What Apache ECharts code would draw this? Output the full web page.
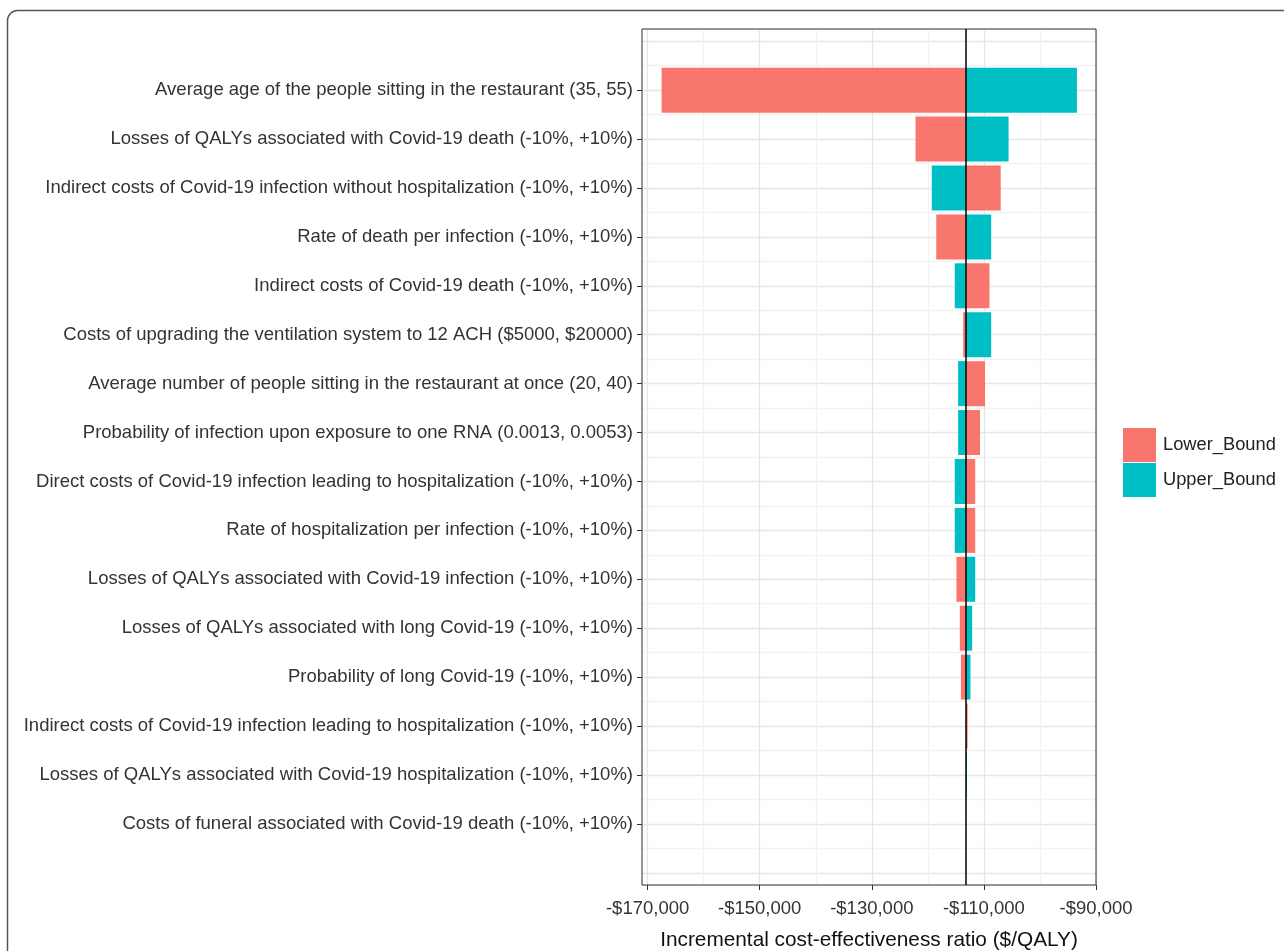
<!DOCTYPE html>
<html>
<head>
<meta charset="utf-8">
<script src="https://cdn.jsdelivr.net/npm/echarts@6/dist/echarts.min.js"></script>
<style>
  html, body { margin: 0; padding: 0; background: #fff; }
  #chart { width: 1284px; height: 951px; }
</style>
</head>
<body>
<div id="chart"></div>
<script>
// tornado diagram, one-way sensitivity of the ICER
var rowLabels = [
  "Average age of the people sitting in the restaurant (35, 55)",
  "Losses of QALYs associated with Covid-19 death (-10%, +10%)",
  "Indirect costs of Covid-19 infection without hospitalization (-10%, +10%)",
  "Rate of death per infection (-10%, +10%)",
  "Indirect costs of Covid-19 death (-10%, +10%)",
  "Costs of upgrading the ventilation system to 12 ACH ($5000, $20000)",
  "Average number of people sitting in the restaurant at once (20, 40)",
  "Probability of infection upon exposure to one RNA (0.0013, 0.0053)",
  "Direct costs of Covid-19 infection leading to hospitalization (-10%, +10%)",
  "Rate of hospitalization per infection (-10%, +10%)",
  "Losses of QALYs associated with Covid-19 infection (-10%, +10%)",
  "Losses of QALYs associated with long Covid-19 (-10%, +10%)",
  "Probability of long Covid-19 (-10%, +10%)",
  "Indirect costs of Covid-19 infection leading to hospitalization (-10%, +10%)",
  "Losses of QALYs associated with Covid-19 hospitalization (-10%, +10%)",
  "Costs of funeral associated with Covid-19 death (-10%, +10%)"
];
var baseIcer = -113200;
var lowerBound = [-167500, -122200, -107000, -118500, -109000, -113700, -109800, -110700,
  -111550, -111550, -114900, -114300, -114100, -112900, -113200, -113200];
var upperBound = [-93400, -105600, -119300, -108700, -115200, -108700, -114600, -114600,
  -115200, -115200, -111550, -112100, -112400, -113200, -113050, -113200];
var xTicks = [-170000, -150000, -130000, -110000, -90000];
var seriesNames = ["Lower_Bound", "Upper_Bound"];
var seriesColors = ["#F8766D", "#00BFC4"];

var fontFamily = "'Liberation Sans', Arial, Helvetica, sans-serif";

function toRows(values) {
  return values.map(function (v, i) {
    return [baseIcer, v, i + 1];
  });
}

function renderBar(params, api) {
  var p0 = api.coord([api.value(0), api.value(2)]);
  var p1 = api.coord([api.value(1), api.value(2)]);
  var h = api.size([0, 1])[1] * 0.92;
  return {
    type: "rect",
    shape: {
      x: Math.min(p0[0], p1[0]),
      y: p0[1] - h / 2,
      width: Math.abs(p1[0] - p0[0]),
      height: h
    },
    style: { fill: api.visual("color") }
  };
}

function money(v) {
  var s = Math.abs(v).toString().replace(/\B(?=(\d{3})+(?!\d))/g, ",");
  return (v < 0 ? "-$" : "$") + s;
}

var chart = echarts.init(document.getElementById("chart"), null, { renderer: "canvas" });

var option = {
  animation: false,
  backgroundColor: "#ffffff",
  textStyle: { fontFamily: fontFamily },
  color: seriesColors,
  graphic: [
    {
      type: "rect",
      z: -10,
      shape: { x: 7.5, y: 10.5, width: 1300, height: 960, r: 10 },
      style: { fill: "none", stroke: "#555", lineWidth: 1.5 }
    }
  ],
  legend: {
    orient: "vertical",
    left: 1118,
    top: 423,
    itemWidth: 33,
    itemHeight: 34,
    itemGap: 1,
    icon: "rect",
    data: seriesNames,
    textStyle: { fontSize: 18.3, color: "#222", fontFamily: fontFamily, padding: [0, 0, 0, 2] }
  },
  grid: {
    left: 642,
    right: 188,
    top: 29,
    bottom: 66,
    outerBoundsMode: "none",
    containLabel: false,
    show: true,
    borderColor: "#333",
    borderWidth: 1,
    backgroundColor: "transparent",
    z: 3
  },
  xAxis: [
    {
      // grid lines every 10,000
      type: "value",
      min: -171000,
      max: -90000,
      splitNumber: 8,
      axisLine: { show: false, onZero: false },
      axisTick: { show: false },
      axisLabel: { show: false },
      splitLine: { show: true, lineStyle: { color: ["#f2f2f2", "#e6e6e6"], width: 1.3 } }
    },
    {
      type: "value",
      position: "bottom",
      min: -171000,
      max: -90000,
      axisLine: { show: false, onZero: false },
      axisTick: { show: true, length: 5, customValues: xTicks, lineStyle: { color: "#333" } },
      axisLabel: {
        customValues: xTicks,
        margin: 14,
        fontSize: 18.5,
        color: "#333",
        fontFamily: fontFamily,
        formatter: money
      },
      splitLine: { show: false },
      name: "Incremental cost-effectiveness ratio ($/QALY)",
      nameLocation: "middle",
      nameGap: 45,
      nameTextStyle: { fontSize: 20.8, color: "#111", fontFamily: fontFamily }
    }
  ],
  yAxis: [
    {
      // grid lines at rows and half rows
      type: "value",
      inverse: true,
      min: -0.25,
      max: 17.25,
      splitNumber: 35,
      axisLine: { show: false, onZero: false },
      axisTick: { show: false },
      axisLabel: { show: false },
      splitLine: { show: true, lineStyle: { color: ["#f2f2f2", "#e6e6e6"], width: 1.3 } }
    },
    {
      type: "value",
      position: "left",
      inverse: true,
      min: -0.25,
      max: 17.25,
      axisLine: { show: false, onZero: false },
      axisTick: {
        show: true,
        length: 5,
        customValues: rowLabels.map(function (d, i) { return i + 1; }),
        lineStyle: { color: "#333" }
      },
      axisLabel: {
        customValues: rowLabels.map(function (d, i) { return i + 1; }),
        margin: 9,
        fontSize: 18.5,
        color: "#333",
        fontFamily: fontFamily,
        formatter: function (v) { return rowLabels[Math.round(v) - 1] || ""; }
      },
      splitLine: { show: false }
    }
  ],
  series: [
    {
      name: seriesNames[0],
      type: "custom",
      xAxisIndex: 0,
      yAxisIndex: 0,
      renderItem: renderBar,
      encode: { x: [0, 1], y: 2 },
      itemStyle: { color: seriesColors[0] },
      data: toRows(lowerBound),
      z: 2,
      markLine: {
        silent: true,
        symbol: "none",
        label: { show: false },
        lineStyle: { color: "#000", width: 1.5, type: "solid" },
        data: [{ xAxis: baseIcer }]
      }
    },
    {
      name: seriesNames[1],
      type: "custom",
      xAxisIndex: 0,
      yAxisIndex: 0,
      renderItem: renderBar,
      encode: { x: [0, 1], y: 2 },
      itemStyle: { color: seriesColors[1] },
      data: toRows(upperBound),
      z: 2
    }
  ]
};

chart.setOption(option);
</script>
</body>
</html>
